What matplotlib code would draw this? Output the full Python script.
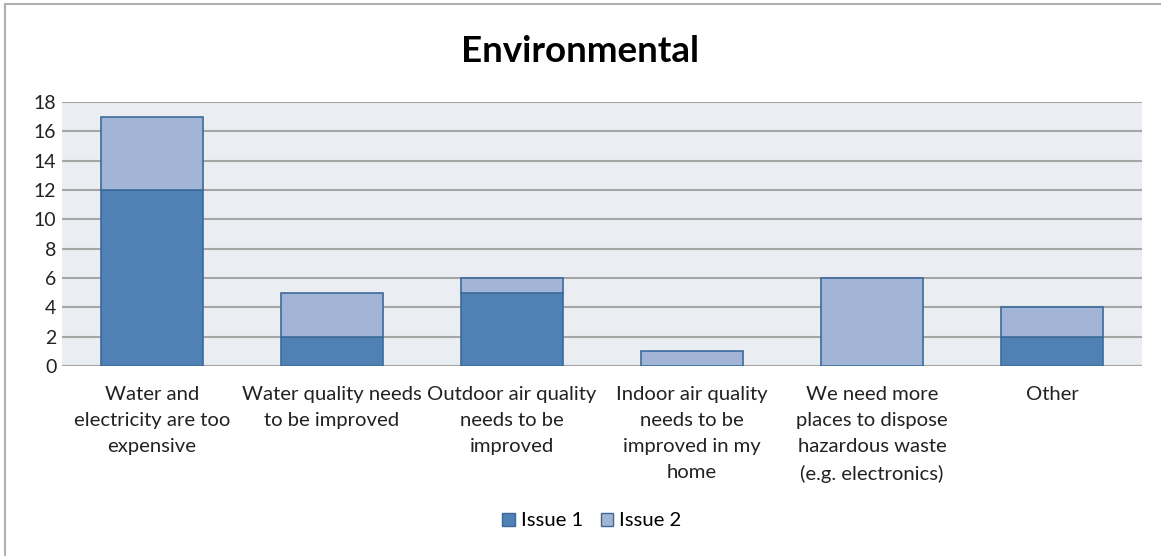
import matplotlib
matplotlib.use("Agg")
import matplotlib.pyplot as plt
from matplotlib.lines import Line2D
import numpy as np

categories = [
    "Water and\nelectricity are too\nexpensive",
    "Water quality needs\nto be improved",
    "Outdoor air quality\nneeds to be\nimproved",
    "Indoor air quality\nneeds to be\nimproved in my\nhome",
    "We need more\nplaces to dispose\nhazardous waste\n(e.g. electronics)",
    "Other",
]
issue1 = [12, 2, 5, 0, 0, 2]
issue2 = [5, 3, 1, 1, 6, 2]
series_names = ["Issue 1", "Issue 2"]
y_ticks = list(range(0, 19, 2))

c1 = "#4f81b5"
c2 = "#a3b5d7"
edge = "#3b6a9a"

plt.rcParams["font.family"] = ["Lato", "DejaVu Sans"]

fig = plt.figure(figsize=(11.61, 5.56), dpi=100)
ax = fig.add_axes((62 / 1161, 1 - 366 / 556, 1080 / 1161, 264 / 556))

x = np.arange(len(categories))
w = 0.57
ax.bar(x, issue1, w, color=c1, edgecolor=edge, linewidth=1.2, label=series_names[0], zorder=3)
ax.bar(x, issue2, w, bottom=issue1, color=c2, edgecolor=edge, linewidth=1.2,
       label=series_names[1], zorder=3)

ax.set_xlim(-0.5, len(categories) - 0.5)
ax.set_ylim(0, 18)
ax.set_yticks(y_ticks)
ax.set_facecolor("#eaedf2")
ax.grid(axis="y", color="#a6a6a6", linewidth=1.5, zorder=1)
for s in ax.spines.values():
    s.set_visible(False)
ax.axhline(0, color="#a6a6a6", linewidth=1.5, zorder=2)
ax.tick_params(axis="both", length=0, colors="#222222")
ax.tick_params(axis="y", labelsize=14, pad=4)
ax.tick_params(axis="x", labelsize=14.6, pad=14.5)
ax.set_xticks(x)
ax.set_xticklabels(categories, va="top", linespacing=1.64)

fig.text(0.5, 1 - 51 / 556, "Environmental", ha="center", va="center",
         fontsize=26.5, fontweight="bold", color="#000000")

handles = [
    plt.Rectangle((0, 0), 1, 1, facecolor=c1, edgecolor=edge),
    plt.Rectangle((0, 0), 1, 1, facecolor=c2, edgecolor=edge),
]
fig.legend(handles, series_names, loc="center", bbox_to_anchor=(0.51, 1 - 521 / 556),
           ncol=2, frameon=False, fontsize=14.6, handlelength=0.6, handleheight=0.6,
           handletextpad=0.3, columnspacing=0.9)

# outer chart border (left and top only visible)
fig.add_artist(Line2D([5 / 1161, 5 / 1161], [0, 1 - 4 / 556], transform=fig.transFigure,
                      color="#b0b0b0", linewidth=1.5))
fig.add_artist(Line2D([5 / 1161, 1], [1 - 4 / 556, 1 - 4 / 556], transform=fig.transFigure,
                      color="#b0b0b0", linewidth=1.5))

fig.savefig("out.png", dpi=100)
